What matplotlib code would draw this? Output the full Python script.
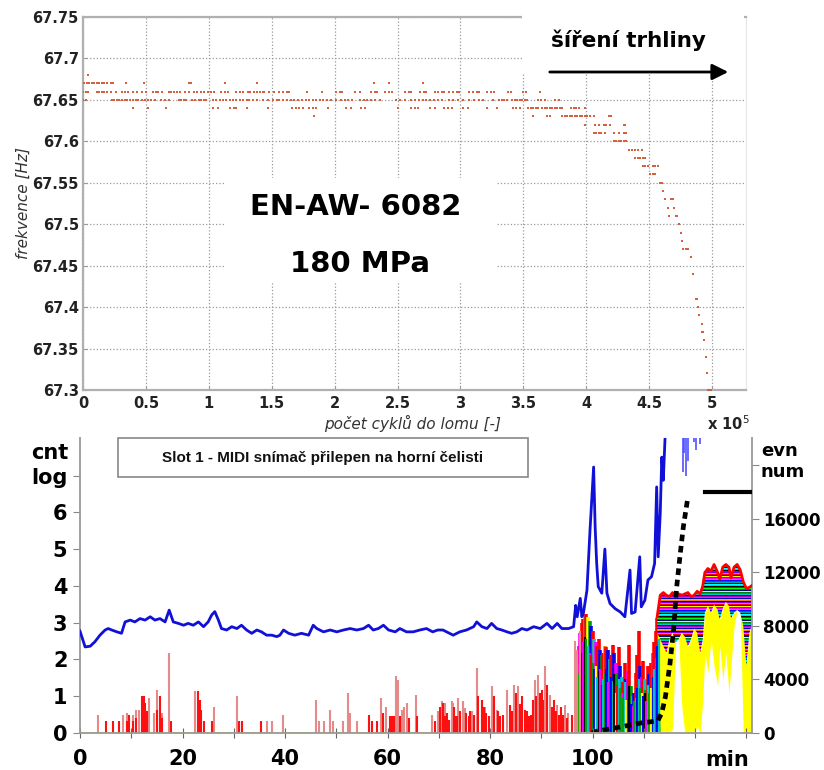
import numpy as np
import matplotlib
matplotlib.use('Agg')
import matplotlib.pyplot as plt
from matplotlib.patches import Rectangle, FancyArrowPatch
from matplotlib.colors import to_rgb

# ---------------- top chart: frequency vs cycles (x 1e5) ----------------
x_f6768 = [0.04]
x_f6767 = [0.01, 0.03, 0.05, 0.07, 0.09, 0.11, 0.13, 0.15, 0.17, 0.19, 0.22, 0.24,
           0.34, 0.485, 0.84, 0.86, 1.13, 1.38, 2.31, 2.43, 2.70]
x_f6766 = [0.0, 0.02, 0.04, 0.11, 0.13, 0.15, 0.17, 0.19, 0.22, 0.26, 0.31, 0.33, 0.36,
           0.40, 0.43, 0.47, 0.50, 0.56, 0.58, 0.60, 0.63, 0.68, 0.70, 0.72, 0.75, 0.77,
           0.81, 0.84, 0.88, 0.91, 0.94, 0.96, 0.99, 1.02, 1.04, 1.10, 1.13, 1.15, 1.22,
           1.25, 1.27, 1.31, 1.33, 1.36, 1.38, 1.41, 1.43, 1.44, 1.48, 1.52, 1.56, 1.59,
           1.62, 1.64, 1.78, 1.90, 2.01, 2.04, 2.06, 2.16, 2.20, 2.29, 2.32, 2.34, 2.40,
           2.43, 2.46, 2.56, 2.59, 2.61, 2.68, 2.71, 2.73, 2.80, 2.82, 2.85, 2.87, 2.91,
           2.94, 2.97, 2.99, 3.07, 3.10, 3.13, 3.15, 3.21, 3.24, 3.27, 3.38, 3.40, 3.50,
           3.52, 3.63]
x_f6765 = [0.0, 0.02, 0.23, 0.25, 0.27, 0.29, 0.31, 0.33, 0.35, 0.37, 0.40, 0.42, 0.44,
           0.47, 0.49, 0.52, 0.54, 0.57, 0.62, 0.65, 0.68, 0.76, 0.78, 0.80, 0.82, 0.87,
           0.89, 0.92, 0.94, 0.96, 0.98, 1.03, 1.06, 1.09, 1.11, 1.14, 1.17, 1.19, 1.22,
           1.25, 1.27, 1.30, 1.32, 1.35, 1.38, 1.43, 1.47, 1.51, 1.54, 1.56, 1.59, 1.62,
           1.65, 1.68, 1.71, 1.74, 1.77, 1.80, 1.83, 1.85, 1.88, 1.91, 1.94, 1.97, 2.01,
           2.05, 2.08, 2.11, 2.14, 2.20, 2.23, 2.26, 2.29, 2.32, 2.36, 2.49, 2.52, 2.56,
           2.61, 2.64, 2.67, 2.70, 2.73, 2.76, 2.79, 2.82, 2.85, 2.91, 2.94, 2.98, 3.02,
           3.07, 3.11, 3.15, 3.18, 3.26, 3.31, 3.33, 3.35, 3.37, 3.41, 3.43, 3.45, 3.47,
           3.49, 3.51, 3.53, 3.62, 3.64, 3.67, 3.75, 3.78]
x_f6764 = [0.40, 0.52, 0.66, 1.03, 1.07, 1.17, 1.20, 1.22, 1.30, 1.47, 1.66, 1.69, 1.72,
           1.75, 1.80, 1.83, 1.85, 1.95, 2.09, 2.13, 2.21, 2.24, 2.50, 2.61, 2.64, 2.66,
           2.76, 2.80, 2.87, 2.90, 2.93, 3.02, 3.06, 3.21, 3.29, 3.42, 3.44, 3.47, 3.54,
           3.56, 3.58, 3.60, 3.62, 3.65, 3.67, 3.69, 3.71, 3.73, 3.75, 3.77, 3.79, 3.81,
           3.88, 3.90, 3.92, 3.94, 3.99]
x_f6763 = [1.84, 3.58, 3.69, 3.71, 3.81, 3.83, 3.85, 3.87, 3.89, 3.91, 3.93, 3.95, 3.97,
           3.99, 4.01, 4.03, 4.06, 4.18, 4.20]
# crack growth tail
tail_x = [3.99, 4.07, 4.10, 4.14, 4.16, 4.19, 4.30, 4.31,
          4.06, 4.08, 4.10, 4.12, 4.15, 4.22, 4.26, 4.30, 4.32,
          4.22, 4.24, 4.26, 4.28, 4.30, 4.32,
          4.34, 4.36, 4.39, 4.41, 4.44,
          4.39, 4.41, 4.43, 4.45, 4.47,
          4.45, 4.47, 4.49, 4.53, 4.55, 4.57,
          4.51, 4.53, 4.55,
          4.59, 4.60, 4.61, 4.63, 4.67, 4.69, 4.65, 4.70, 4.66, 4.71, 4.72,
          4.74, 4.75, 4.76, 4.77, 4.79, 4.81, 4.83, 4.85, 4.87, 4.88, 4.89,
          4.90, 4.92, 4.92, 4.93, 4.94, 4.95, 4.96, 4.97, 4.98, 4.99]
tail_f = [67.62] * 8 + [67.61] * 9 + [67.60] * 6 + [67.59] * 5 + [67.58] * 5 + \
         [67.57] * 6 + [67.56] * 3 + \
         [67.55, 67.55, 67.54, 67.53, 67.53, 67.53, 67.52, 67.52, 67.51, 67.51, 67.51,
          67.50, 67.49, 67.48, 67.47, 67.47, 67.47, 67.46, 67.44, 67.41, 67.41, 67.40,
          67.39, 67.38, 67.37, 67.37, 67.36, 67.34, 67.32, 67.30, 67.30, 67.30]

top_xticks = [0, 0.5, 1, 1.5, 2, 2.5, 3, 3.5, 4, 4.5, 5]
top_xlabels = ['0', '0.5', '1', '1.5', '2', '2.5', '3', '3.5', '4', '4.5', '5']
top_yticks = [67.3, 67.35, 67.4, 67.45, 67.5, 67.55, 67.6, 67.65, 67.7, 67.75]
top_ylabels = ['67.3', '67.35', '67.4', '67.45', '67.5', '67.55', '67.6', '67.65', '67.7', '67.75']

# ---------------- bottom chart: acoustic emission ----------------
blue_t = [0.0, 0.4, 1.0, 2.0, 2.9, 3.9, 4.9, 5.5, 6.2, 7.2,
          8.1, 8.8, 9.8, 10.7, 11.7, 12.7, 13.7, 14.6, 15.6, 16.6,
          17.4, 18.2, 19.2, 20.2, 21.1, 22.1, 23.1, 24.1, 25.0, 25.7,
          26.3, 27.0, 27.6, 28.6, 29.6, 30.6, 31.5, 32.5, 33.5, 34.5,
          35.4, 36.4, 37.4, 38.4, 39.0, 39.7, 40.7, 41.9, 43.2, 44.6,
          45.5, 46.2, 47.5, 48.8, 50.1, 51.4, 52.7, 54.0, 55.3, 56.3,
          57.2, 58.2, 59.2, 60.2, 61.5, 62.4, 63.7, 65.0, 66.3, 67.6,
          68.8, 69.8, 70.8, 71.5, 72.8, 74.1, 75.4, 76.8, 77.4, 78.4,
          79.4, 80.3, 81.3, 82.3, 83.3, 84.2, 85.2, 86.2, 87.2, 88.5,
          89.8, 91.1, 92.1, 93.1, 94.0, 95.3, 96.3, 96.7, 97.0, 97.6,
          97.9, 98.2, 98.9, 99.5, 99.8, 100.2, 100.5, 100.8, 101.1, 101.8,
          102.4, 102.8, 103.4, 104.4, 105.4, 106.3, 107.3, 107.6, 108.3, 109.2,
          109.5, 110.2, 110.8, 111.5, 112.1, 112.5, 112.8, 113.2, 113.5, 113.8,
          114.1, 114.5]
blue_v = [2.77, 2.60, 2.34, 2.36, 2.48, 2.66, 2.80, 2.84, 2.80, 2.75,
          2.71, 3.02, 3.07, 3.02, 3.11, 3.07, 3.16, 3.07, 3.11, 3.02,
          3.34, 3.02, 2.98, 2.93, 2.98, 2.93, 3.02, 2.89, 3.02, 3.21,
          3.30, 3.07, 2.84, 2.80, 2.89, 2.84, 2.93, 2.80, 2.71, 2.80,
          2.75, 2.66, 2.66, 2.62, 2.66, 2.80, 2.71, 2.66, 2.71, 2.66,
          2.93, 2.84, 2.75, 2.80, 2.75, 2.80, 2.84, 2.80, 2.84, 2.93,
          2.80, 2.84, 2.93, 2.80, 2.75, 2.84, 2.75, 2.75, 2.80, 2.84,
          2.75, 2.80, 2.80, 2.75, 2.66, 2.75, 2.80, 2.89, 3.02, 2.89,
          2.84, 2.98, 2.84, 2.80, 2.75, 2.71, 2.75, 2.84, 2.80, 2.89,
          2.84, 2.98, 2.84, 2.98, 2.84, 2.84, 2.89, 3.47, 3.16, 3.66,
          3.16, 3.25, 3.88, 5.52, 6.24, 7.23, 5.60, 4.61, 3.98, 3.80,
          5.00, 3.80, 3.52, 3.38, 3.29, 3.16, 4.43, 3.25, 3.29, 4.79,
          3.43, 3.61, 4.16, 4.25, 4.61, 6.69, 4.79, 5.97, 7.50, 6.87,
          7.90, 9.00]
blue_hi_t = [117.6, 117.9, 118.3, 118.7, 119.7, 120.1, 120.9]
blue_hi_v = [7.1, 7.6, 7.0, 7.4, 7.9, 7.7, 7.85]

pink_t = [3.6, 8.3, 9.2, 10.3, 10.9, 11.6, 13.5, 14.4, 15.1, 16.0,
          17.4, 22.4, 26.1, 30.6, 36.4, 37.4, 39.7, 46.0, 46.7, 47.6,
          48.8, 49.4, 51.3, 52.2, 52.7, 54.1, 58.7, 59.6, 61.7, 62.0,
          62.9, 63.3, 63.8, 65.5, 68.6, 69.9, 70.6, 71.2, 72.6, 72.8,
          73.7, 74.7, 74.8, 75.2, 76.4, 77.4, 79.0, 80.3, 81.3, 83.3,
          84.6, 85.5, 88.8, 89.4, 90.7, 91.7, 93.0, 94.6, 95.3, 96.6,
          97.0, 97.6]
pink_h = [0.50, 0.50, 0.54, 0.50, 0.63, 0.63, 0.95, 0.54, 1.18, 0.54,
          2.17, 1.13, 0.72, 1.00, 0.32, 0.32, 0.50, 0.90, 0.32, 0.32,
          0.63, 0.32, 0.32, 1.09, 0.54, 0.32, 0.95, 0.72, 1.54, 1.45,
          0.63, 0.72, 0.81, 1.04, 0.50, 0.59, 0.86, 0.81, 0.86, 0.81,
          0.95, 0.86, 0.86, 0.68, 0.59, 1.77, 0.72, 1.27, 0.63, 1.18,
          1.31, 1.27, 1.45, 1.59, 1.81, 1.04, 0.77, 0.77, 0.54, 2.49,
          2.26, 2.76]
red_t = [5.1, 6.4, 7.7, 9.2, 9.6, 10.3, 10.9, 12.0, 12.4, 12.7,
         13.0, 15.1, 15.6, 16.0, 17.7, 23.1, 23.4, 23.7, 24.1, 25.7,
         31.1, 31.7, 35.4, 56.4, 56.9, 57.9, 59.2, 60.4, 60.8, 61.3,
         62.4, 64.1, 65.7, 69.3, 70.3, 70.9, 71.3, 71.6, 71.9, 72.9,
         73.2, 73.5, 74.2, 75.4, 75.8, 76.0, 76.8, 77.7, 78.4, 78.9,
         79.3, 79.7, 80.7, 81.6, 81.9, 82.6, 83.9, 84.2, 85.1, 85.8,
         86.2, 86.8, 87.2, 87.5, 88.0, 88.4, 89.0, 89.7, 90.1, 90.4,
         91.2, 92.0, 92.4, 92.8, 93.4, 93.8, 94.2, 95.0, 96.0]
red_h = [0.32, 0.32, 0.32, 0.32, 0.50, 0.32, 0.41, 1.00, 1.00, 0.81,
         0.60, 0.63, 1.00, 0.40, 0.32, 1.13, 0.90, 0.63, 0.32, 0.32,
         0.32, 0.32, 0.32, 0.50, 0.32, 0.32, 0.54, 0.45, 0.45, 0.45,
         0.45, 0.41, 0.45, 0.32, 0.72, 0.81, 0.45, 0.54, 0.36, 0.72,
         0.45, 0.45, 0.59, 0.54, 0.45, 0.60, 0.50, 1.00, 0.91, 0.70,
         0.55, 0.45, 1.00, 0.60, 0.45, 0.50, 0.77, 0.60, 1.09, 0.80,
         1.00, 0.63, 0.60, 0.45, 0.50, 0.90, 1.00, 1.10, 1.18, 0.90,
         1.31, 0.70, 0.91, 0.60, 0.50, 0.72, 0.50, 0.40, 0.50]

# multichannel event counts (right axis)
col_t = [97.0, 97.3, 97.6, 97.9, 98.2, 98.5, 98.8, 99.1, 99.4, 99.7,
         100.0, 100.3, 100.6, 100.9, 101.2, 101.5, 101.8, 102.1, 102.4, 102.7,
         103.0, 103.3, 103.6, 103.9, 104.2, 104.5, 104.8, 105.1, 105.4, 105.7,
         106.0, 106.3, 106.6, 106.9, 107.2, 107.5, 107.8, 108.1, 108.4, 108.7,
         109.0, 109.3, 109.6, 109.9, 110.2, 110.5, 110.8, 111.1, 111.4, 111.7,
         112.0, 112.3, 112.6, 112.9]
col_h1 = [5000, 6500, 7500, 8200, 8500, 8800, 8900, 8700, 8400, 8000,
          7600, 7000, 6800, 6500, 7000, 6200, 5800, 6000, 6500, 6400,
          6200, 5500, 5800, 6600, 6000, 5200, 4500, 6400, 5000, 4200,
          3800, 5200, 4000, 4600, 6600, 3500, 2800, 3000, 4500, 5800,
          7600, 5000, 4200, 5400, 4000, 3200, 5000, 4400, 5200, 6000,
          6800, 7600, 8600, 9000]
col_c1 = "mrmrrcrygb" "rcmrrbgror" "bcrrbmgrbc" "rrbmrgcbrr" "rbmrcgrbrm" "rrrg"
col_h2 = [3000, 4500, 5200, 6000, 6800, 7200, 7000, 6500, 6000, 5800,
          5200, 4800, 5000, 4200, 4600, 4800, 3600, 4000, 4400, 4800,
          3800, 4000, 4200, 3900, 4400, 3000, 3600, 4000, 3400, 3000,
          2600, 3800, 2500, 3000, 3500, 2200, 2000, 2400, 2600, 3400,
          4000, 3400, 3000, 2800, 3000, 2400, 3600, 3000, 3400, 4200,
          4800, 5600, 6500, 7000]
col_c2 = "cgybmkgcmr" "gbyckmbcgb" "mgbckyrcgm" "gcyrkbmgcb" "cgybkmcgyb" "cmbc"

band_t = [112.6, 113.2, 113.8, 114.4, 115.0, 115.6, 116.2, 116.8, 117.4, 118.0,
          118.6, 119.2, 119.8, 120.4, 121.0, 121.5, 121.9, 122.5, 123.1, 123.7,
          124.4, 124.8, 125.4, 126.0, 126.6, 127.0, 127.6, 128.2, 128.8, 129.4,
          130.0, 130.6, 131.0]
band_top = [8700, 10300, 10500, 10300, 10200, 10500, 10200, 10400, 10300, 10400,
            10500, 10200, 10300, 10600, 10400, 11000, 12000, 12300, 12100, 12600,
            12000, 11500, 12400, 12600, 12400, 11600, 12400, 12600, 12200, 11300,
            10800, 10900, 11000]
band_mid = [7500, 7000, 6500, 6000, 7000, 7500, 6800, 7000, 7500, 7200,
            6500, 7000, 7800, 7500, 6000, 7000, 9000, 9500, 9000, 9600,
            9200, 8500, 9300, 9800, 9500, 8600, 9000, 9200, 9000, 8000,
            5000, 7500, 8000]
yel_bot = [7500, 0, 0, 0, 0, 300, 6800, 7000, 2000, 0,
           0, 0, 0, 500, 0, 2500, 6000, 4500, 7000, 5000,
           3500, 6500, 4000, 6000, 3000, 5000, 8000, 9200, 9000, 0,
           0, 0, 0]

cum_t = [99.8, 101.0, 104.0, 107.4, 109.4, 112.7, 113.5, 114.2, 115.1, 115.8,
         116.4, 117.1, 117.7, 118.5]
cum_n = [0, 150, 350, 600, 750, 900, 1500, 2700, 5200, 7700,
         10900, 13400, 15400, 17400]
total_t = [122.0, 131.1]
total_n = [18000, 18000]

cnt_ticks = [0, 1, 2, 3, 4, 5, 6, 7]
cnt_labels = ['0', '1', '2', '3', '4', '5', '6', 'log']
evn_ticks = [0, 4000, 8000, 12000, 16000, 20000]
evn_labels = ['0', '4000', '8000', '12000', '16000', '']
min_ticks = [0, 10, 20, 30, 40, 50, 60, 70, 80, 90, 100, 110, 120, 130]
min_labels = ['0', '', '20', '', '40', '', '60', '', '80', '', '100', '', '', '']

palette = {'r': '#ff0000', 'm': '#ff00ff', 'c': '#00c8c8', 'y': '#ffff00',
           'g': '#00a000', 'b': '#0000ff', 'o': '#ff8000', 'k': '#000000'}
stripe_cols = ['#0000ff', '#00c8c8', '#ff00ff', '#008000', '#ffff00', '#000080',
               '#ff0000', '#00ff00', '#8000ff', '#000000', '#ff8000', '#00ffff',
               '#0000c0', '#00a0a0', '#c000c0']

W, H = 824, 770


def fx(px):
    return px / W


def fy(py):
    return 1 - py / H


fig = plt.figure(figsize=(W / 100, H / 100), dpi=100)
fig.patch.set_facecolor('white')

# ---------- top ----------
ax_t = fig.add_axes([fx(83), fy(390), fx(746) - fx(83), fy(17) - fy(390)])
ax_t.set_xlim(0, 5.27)
ax_t.set_ylim(67.3, 67.75)
dot = '#d65f3e'
for f, xs in [(67.68, x_f6768), (67.67, x_f6767), (67.66, x_f6766),
              (67.65, x_f6765), (67.64, x_f6764), (67.63, x_f6763)]:
    ax_t.plot(xs, [f] * len(xs), 's', ms=1.8, mew=0, color=dot, zorder=3)
ax_t.plot(tail_x, tail_f, 's', ms=1.8, mew=0, color=dot, zorder=3)
ax_t.set_xticks(top_xticks)
ax_t.set_xticklabels(top_xlabels)
ax_t.set_yticks(top_yticks)
ax_t.set_yticklabels(top_ylabels)
ax_t.grid(True, ls=':', color='#9a9a9a', lw=0.9)
ax_t.tick_params(direction='in', length=3, color='#999999', labelcolor='#222222',
                 labelsize=10.5)
ax_t.tick_params(axis='x', pad=4)
ax_t.tick_params(axis='y', pad=3)
plt.setp(ax_t.get_xticklabels() + ax_t.get_yticklabels(), fontweight='bold')
for side in ['left', 'bottom', 'top']:
    ax_t.spines[side].set_color('#b0b0b0')
    ax_t.spines[side].set_linewidth(1.6)
ax_t.spines['right'].set_color('#e6e6e6')

fig.text(fx(23), fy(203), 'frekvence [Hz]', rotation=90, ha='center', va='center',
         fontsize=11, fontstyle='italic', color='#333333')
fig.text(fx(413), fy(423), 'počet cyklů do lomu [-]', ha='center', va='center',
         fontsize=11, fontstyle='italic', color='#333333')
fig.text(fx(707), fy(424), r'x 10$^{5}$', ha='left', va='center',
         fontsize=10.5, fontweight='bold', color='#222222')

# white label boxes over the plot
fig.add_artist(Rectangle((fx(226), fy(283)), fx(496) - fx(226), fy(178) - fy(283),
                         transform=fig.transFigure, facecolor='white', edgecolor='none', zorder=5))
fig.add_artist(Rectangle((fx(522), fy(74)), fx(744) - fx(522), fy(14) - fy(74),
                         transform=fig.transFigure, facecolor='white', edgecolor='none', zorder=5))
fig.text(fx(356), fy(207), 'EN-AW- 6082', ha='center', va='center', fontsize=21,
         fontweight='bold', color='black', zorder=6)
fig.text(fx(360), fy(264), '180 MPa', ha='center', va='center', fontsize=21,
         fontweight='bold', color='black', zorder=6)
fig.text(fx(628), fy(40), 'šíření trhliny', ha='center', va='center', fontsize=15.5,
         fontweight='bold', color='black', zorder=6)
fig.add_artist(FancyArrowPatch((fx(547), fy(72)), (fx(731), fy(72)), transform=fig.transFigure,
                               arrowstyle='-|>', mutation_scale=24, lw=2, color='black',
                               zorder=7))

# ---------- bottom ----------
ax = fig.add_axes([fx(80), fy(733), fx(752) - fx(80), fy(438) - fy(733)])
ax2 = ax.twinx()
ax.set_zorder(ax2.get_zorder() + 1)
ax.patch.set_visible(False)

# right axis: channel events, cumulative count
ax2.vlines(col_t, 0, col_h1, colors=[palette[c] for c in col_c1], lw=2.6, zorder=2)
ax2.vlines(col_t, 0, col_h2, colors=[palette[c] for c in col_c2], lw=1.6, zorder=2.1)
ax2.fill_between(band_t, yel_bot, band_mid, color='#ffff00', lw=0, zorder=2)
band_poly = ax2.fill_between(band_t, band_mid, band_top, facecolor='none', lw=0)
rgb = np.array([to_rgb(c) for c in stripe_cols])
tex = rgb[np.arange(190) % len(stripe_cols)][:, None, :]
im = ax2.imshow(tex, extent=[110, 131.1, 0, 14400], origin='lower', aspect='auto',
                interpolation='nearest', zorder=2.5)
im.set_clip_path(band_poly.get_paths()[0], transform=ax2.transData)
ax2.plot(band_t, band_top, color='#ff0000', lw=2, zorder=3)
ax2.plot(cum_t, cum_n, color='black', lw=3.4, ls=(0, (1.4, 1.0)), zorder=4)
ax2.plot(total_t, total_n, color='black', lw=3, zorder=4)

# left axis: log counts and amplitude hits
ax.plot([0, 113], [0, 0], color='#ffff33', lw=1.5, zorder=1)
ax.vlines(pink_t, 0, pink_h, colors='#e58a8a', lw=1.5, zorder=2)
ax.vlines(red_t, 0, red_h, colors='#ff1010', lw=1.5, zorder=2.2)
ax.plot(blue_t, blue_v, color='#1010d8', lw=2.0, zorder=3)
ax.vlines(blue_hi_t, blue_hi_v, 8.3, colors='#5050ff', lw=1.2, zorder=3)

ax.set_xlim(0, 131.1)
ax.set_ylim(0, 8.02)
ax2.set_ylim(0, 8.02 * 2750)
ax2.set_xlim(0, 131.1)

ax.set_xticks(min_ticks)
ax.set_xticklabels(min_labels)
ax.set_yticks(cnt_ticks)
ax.set_yticklabels(cnt_labels)
ax2.set_yticks(evn_ticks)
ax2.set_yticklabels(evn_labels)

ax.tick_params(axis='x', direction='inout', length=7, color='#666666', labelsize=15,
               pad=8, labelcolor='black')
ax.tick_params(axis='y', direction='out', length=5, color='#888888', labelsize=15,
               pad=4, labelcolor='black')
ax2.tick_params(axis='y', direction='out', length=5, color='#888888', labelsize=12,
                pad=3, labelcolor='black')
plt.setp(ax.get_xticklabels() + ax.get_yticklabels() + ax2.get_yticklabels(),
         fontweight='bold')

for a in (ax, ax2):
    for side in a.spines:
        a.spines[side].set_visible(False)
ax.spines['left'].set_visible(True)
ax.spines['bottom'].set_visible(True)
ax2.spines['right'].set_visible(True)
for sp in (ax.spines['left'], ax.spines['bottom'], ax2.spines['right']):
    sp.set_color('#999999')
    sp.set_linewidth(1.3)

fig.text(fx(68), fy(453), 'cnt', ha='right', va='center', fontsize=15,
         fontweight='bold', color='black')
fig.text(fx(761), fy(451), 'evn', ha='left', va='center', fontsize=13,
         fontweight='bold', color='black')
fig.text(fx(761), fy(472), 'num', ha='left', va='center', fontsize=13,
         fontweight='bold', color='black')
fig.text(fx(727), fy(760), 'min', ha='center', va='center', fontsize=15,
         fontweight='bold', color='black')

# title box
fig.add_artist(Rectangle((fx(118), fy(477)), fx(528) - fx(118), fy(438) - fy(477),
                         transform=fig.transFigure, facecolor='white',
                         edgecolor='#888888', lw=1.2, zorder=5))
fig.text(fx(323), fy(458), 'Slot 1 - MIDI snímač přilepen na horní čelisti',
         ha='center', va='center', fontsize=11, fontweight='bold',
         family=['Liberation Sans', 'DejaVu Sans'], color='#111111', zorder=6)

fig.savefig('out.png', dpi=100)
